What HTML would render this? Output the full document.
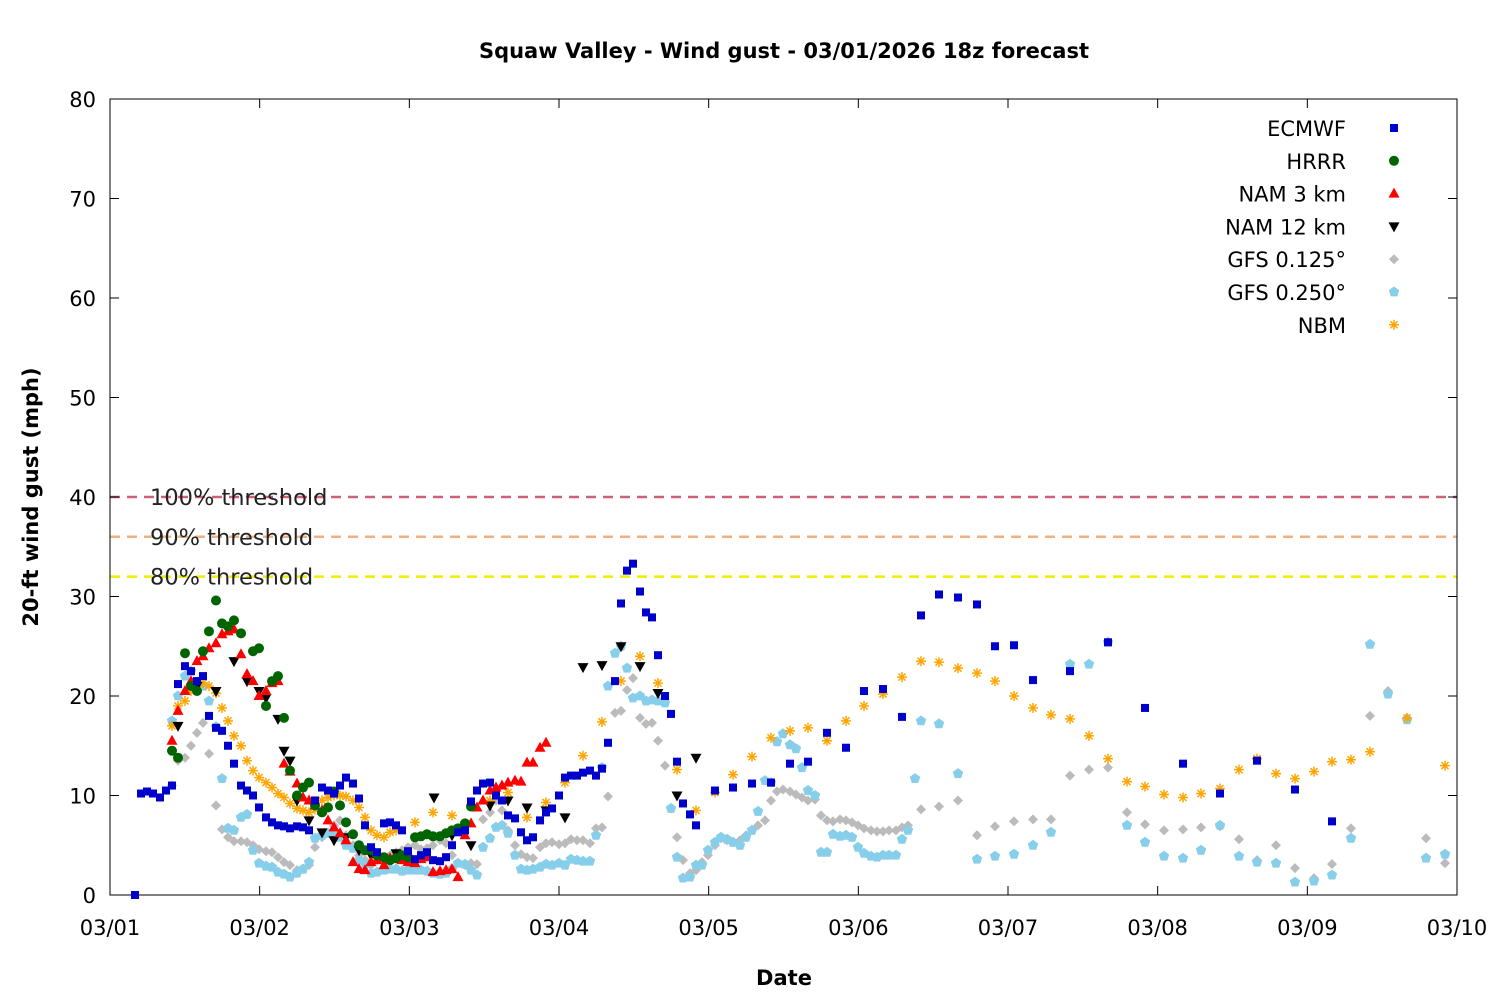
<!DOCTYPE html>
<html><head><meta charset="utf-8"><style>
html,body{margin:0;padding:0;background:#fff;}
svg text{font-family:"DejaVu Sans","Liberation Sans",sans-serif;}
</style></head><body>
<svg id="s" width="1500" height="1000" xmlns="http://www.w3.org/2000/svg">
<rect width="1500" height="1000" fill="#fff"/>
<text x="784" y="58" font-size="21" font-weight="bold" text-anchor="middle">Squaw Valley - Wind gust - 03/01/2026 18z forecast</text>
<text x="784" y="985" font-size="21" font-weight="bold" text-anchor="middle">Date</text>
<text transform="translate(38,497) rotate(-90)" font-size="21" font-weight="bold" text-anchor="middle">20-ft wind gust (mph)</text>
<g id="g"></g>
</svg>
<script>
const NS="http://www.w3.org/2000/svg",g=document.getElementById('g');
function el(t,a,txt){const e=document.createElementNS(NS,t);for(const k in a)e.setAttribute(k,a[k]);if(txt!==undefined)e.textContent=txt;g.appendChild(e);return e;}
const X0=110,X1=1457,Y0=895,Y1=99;const Y=v=>Y0-v*(Y0-Y1)/80;
[[40,'#d06078','100% threshold'],[36,'#f0b080','90% threshold'],[32,'#eeee00','80% threshold']].forEach(t=>{
 el('line',{x1:X0,x2:X1,y1:Y(t[0]),y2:Y(t[0]),stroke:t[1],'stroke-width':2.5,'stroke-dasharray':'10 7'});
 el('text',{x:150,y:Y(t[0])+8,'font-size':22.5,fill:'#222'},t[2]);});
el('rect',{x:X0,y:Y1,width:X1-X0,height:Y0-Y1,fill:'none',stroke:'#000','stroke-width':1});
for(let v=0;v<=80;v+=10){const y=Y(v);el('line',{x1:X0,x2:X0+9,y1:y,y2:y,stroke:'#000'});el('line',{x1:X1,x2:X1-9,y1:y,y2:y,stroke:'#000'});
 el('text',{x:96,y:y+8,'font-size':21,'text-anchor':'end'},String(v));}
for(let d=0;d<=9;d++){const x=X0+d*(X1-X0)/9;el('line',{x1:x,x2:x,y1:Y0,y2:Y0-9,stroke:'#000'});el('line',{x1:x,x2:x,y1:Y1,y2:Y1+9,stroke:'#000'});
 el('text',{x:x,y:935,'font-size':21,'text-anchor':'middle'},'03/'+String(d+1).padStart(2,'0'));}
function mk(type,x,y,c){
 if(type=='sq')el('rect',{x:x-4,y:y-4,width:8,height:8,fill:c});
 else if(type=='ci')el('circle',{cx:x,cy:y,r:5,fill:c});
 else if(type=='tu')el('polygon',{points:`${x},${y-6} ${x+5.5},${y+4} ${x-5.5},${y+4}`,fill:c});
 else if(type=='td')el('polygon',{points:`${x},${y+6} ${x+5.5},${y-4} ${x-5.5},${y-4}`,fill:c});
 else if(type=='di')el('polygon',{points:`${x},${y-5} ${x+5},${y} ${x},${y+5} ${x-5},${y}`,fill:c});
 else if(type=='pe'){let p=[];for(let i=0;i<5;i++){const a=-Math.PI/2+i*2*Math.PI/5;p.push((x+5.5*Math.cos(a)).toFixed(1)+','+(y+5.5*Math.sin(a)).toFixed(1));}el('polygon',{points:p.join(' '),fill:c});}
 else if(type=='as'){for(let i=0;i<4;i++){const a=i*Math.PI/4;el('line',{x1:x-5*Math.cos(a),y1:y-5*Math.sin(a),x2:x+5*Math.cos(a),y2:y+5*Math.sin(a),stroke:c,'stroke-width':1.5});}}
}
function P(s){return s.trim().split(/\s+/).map(p=>p.split(',').map(Number));}
const S=[
['di','#bbbbbb',P(`172,11 178,13.5 185,13.8 191,15 197,16.3 203,17.3 209,14.2 216,9 222,6.6 228,5.8 234,5.4 241,5.4 247,5.3 253,5 259,4.6 266,4.4 272,4.3 278,3.8 284,3.3 290,3 297,2.5 303,2.6 309,3 315,4.8 322,5.8 328,6.2 334,7 340,7.5 346,6 353,5 359,4 365,3.5 371,3 377,3.5 384,3.8 390,4 396,4.3 402,4.5 408,4.8 415,5 421,4.6 427,4.7 433,5 440,5.5 446,5.2 452,4 458,3.2 465,3 471,3.2 477,3.1 483,7.6 490,8.3 496,9.5 502,8.5 508,6.5 515,5 521,4.1 527,3.8 533,3.7 540,4.8 546,5.2 552,5.3 559,5.1 565,5.2 571,5.6 577,5.5 583,5.5 590,5.2 596,6.7 602,6.8 608,9.9 615,18.3 621,18.5 627,20.6 633,21.8 640,17.8 646,17.2 652,17.3 658,15.5 665,13 671,8.7 677,5.8 683,3.5 690,2.2 696,2.5 702,3.3 708,4 715,5 721,5.7 727,5.5 733,5.3 740,5.5 746,6 752,6.5 758,7 765,7.5 771,9.5 777,10.4 783,10.6 790,10.4 796,10.1 802,9.8 808,9.5 815,9.6 821,8 827,7.5 833,7.4 840,7.6 846,7.5 852,7.3 858,7 864,6.7 871,6.5 877,6.4 883,6.4 889,6.5 896,6.5 902,6.8 908,7 921,8.6 939,8.9 958,9.5 977,6 995,6.9 1014,7.4 1033,7.6 1051,7.6 1070,12 1089,12.6 1108,12.8 1127,8.3 1145,7.1 1164,6.5 1183,6.6 1201,6.8 1220,6.9 1239,5.6 1257,3.5 1276,5 1295,2.7 1314,1.7 1332,3.1 1351,6.7 1370,18 1388,20.5 1407,17.8 1426,5.7 1445,3.2`)],
['pe','#87ceeb',P(`172,17.5 178,20 185,22 191,22.5 197,21.3 203,21 209,19.5 216,16.9 222,11.7 228,6.7 234,6.5 241,7.8 247,8.1 253,4.5 259,3.2 266,2.9 272,2.8 278,2.3 284,2.1 290,1.8 297,2.2 303,2.6 309,3.3 315,5.7 322,6 328,6.2 334,6.1 340,5.8 346,5 353,4.7 359,3.5 365,3.1 371,2.2 377,2.3 384,2.5 390,2.6 396,2.6 402,2.4 408,2.5 415,2.5 421,2.5 427,2.4 433,2.2 440,2.1 446,2.2 452,2.6 458,3.2 465,3.1 471,2.5 477,2 483,4.8 490,5.7 496,6.8 502,7 508,6.2 515,4 521,2.6 527,2.5 533,2.6 540,2.8 546,3.1 552,3 559,3.2 565,3 571,3.6 577,3.5 583,3.4 590,3.4 596,6 602,12.8 608,21 615,24.3 621,25 627,22.8 633,19.8 640,20 646,19.5 652,19.6 658,19.5 665,19.3 671,8.7 677,3.8 683,1.7 690,1.8 696,3 702,3 708,4.5 715,5.3 721,5.8 727,5.6 733,5.3 740,5 746,5.8 752,6.5 758,8.4 765,11.5 771,11.3 777,15.4 783,16.2 790,15.1 796,14.7 802,12.8 808,10.5 815,10 821,4.3 827,4.3 833,6.1 840,5.9 846,6 852,5.8 858,4.8 864,4.2 871,3.9 877,3.8 883,4 889,4 896,4 902,5.6 908,6.5 915,11.7 921,17.5 939,17.2 958,12.2 977,3.6 995,3.9 1014,4.1 1033,5 1051,6.3 1070,23.2 1089,23.2 1108,25.4 1127,7 1145,5.3 1164,3.9 1183,3.7 1201,4.5 1220,7 1239,3.9 1257,3.3 1276,3.2 1295,1.3 1314,1.4 1332,2 1351,5.7 1370,25.2 1388,20.2 1407,17.6 1426,3.7 1445,4.1`)],
['as','#ffa500',P(`172,17 178,19 185,19.5 191,20.5 197,21 203,21.3 209,21 216,20.3 222,18.8 228,17.5 234,16 241,15 247,13.5 253,12.5 259,11.8 266,11.3 272,10.8 278,10.2 284,9.8 290,9.2 297,8.7 303,8.5 309,8.3 315,8.6 322,9.5 328,9.8 334,10 340,10 346,9.9 353,9.5 359,8.8 365,7.8 371,6.5 377,6 384,5.8 390,6.3 396,6.5 415,7.3 433,8.3 452,8 471,8.9 490,9.5 508,10.3 527,7.8 546,9.3 565,11.3 583,14 602,17.4 621,21.5 640,24 658,21.3 677,12.6 696,8.5 715,10.3 733,12.1 752,13.9 771,15.8 790,16.5 808,16.8 827,15.5 846,17.5 864,19 883,20.2 902,21.9 921,23.5 939,23.4 958,22.8 977,22.3 995,21.5 1014,20 1033,18.8 1051,18.1 1070,17.7 1089,16 1108,13.7 1127,11.4 1145,10.9 1164,10.1 1183,9.8 1201,10.2 1220,10.7 1239,12.6 1257,13.7 1276,12.2 1295,11.7 1314,12.4 1332,13.4 1351,13.6 1370,14.4 1407,17.8 1445,13`)],
['td','#000000',P(`178,17 197,21 216,20.5 234,23.5 247,21.5 259,20.5 266,19.8 278,17.7 284,14.5 290,13.5 297,9.5 309,7.5 322,6.3 334,5.5 346,5.8 359,4.5 371,4 384,3.5 396,4.2 408,3.5 434,9.8 452,6 471,5 490,9 508,9.5 527,8.8 546,8.5 565,7.8 583,22.9 602,23.1 621,25 640,23 658,20.3 677,10 696,13.8`)],
['tu','#ff0000',P(`172,15.5 178,18.5 185,20.5 191,21.5 197,23.5 203,24 209,24.8 216,25.3 222,26.2 228,26.5 234,26.7 241,24.2 247,22.2 253,21.5 259,20 266,20.5 272,21.3 278,21.5 284,13.2 290,12.4 297,11.2 303,9.8 309,9.5 315,9 322,8.5 328,7.5 334,6.8 340,6.2 346,5.5 353,3.3 359,2.6 365,2.5 371,3.3 377,3.5 384,3 390,3.7 396,3.6 402,3.5 408,3.3 415,3.2 421,3.6 427,3.8 433,2.3 440,2.4 446,2.5 452,2.6 458,1.8 465,6 471,7.2 477,8.8 483,9.5 490,10.5 496,10.8 502,11 508,11.3 515,11.5 521,11.4 527,13.3 533,13.3 540,14.8 546,15.3`)],
['ci','#006400',P(`172,14.5 178,13.8 185,24.3 191,21 197,20.5 203,24.5 209,26.5 216,29.6 222,27.3 228,27 234,27.6 241,26.3 253,24.5 259,24.8 266,19 272,21.5 278,22 284,17.8 290,12.5 297,10 303,10.8 309,11.3 315,9 322,8.3 328,8.8 334,10.4 340,9 346,7.3 353,6.1 359,5 365,4.5 371,4.5 377,4 384,3.8 390,3.5 396,3.7 402,4 408,3.8 415,5.8 421,5.9 427,6.1 433,5.9 440,5.9 446,6.2 452,6.5 458,6.7 465,7.2 471,8.9`)],
['sq','#0000cd',P(`135,0 141,10.2 147,10.4 153,10.2 160,9.8 166,10.5 172,11 178,21.2 185,23 191,22.5 197,21.5 203,22 209,18 216,16.8 222,16.5 228,15 234,13.2 241,11 247,10.5 253,10 259,8.8 266,7.8 272,7.3 278,7 284,6.9 290,6.7 297,6.9 303,6.8 309,6.5 315,9.5 322,10.8 328,10.5 334,10.2 340,11 346,11.8 353,11.2 359,9.7 365,7 371,4.8 377,4.3 384,7.2 390,7.3 396,7 402,6.5 408,4.4 415,3.6 421,4 427,4.3 433,3.5 440,3.4 446,3.8 452,5 458,6.3 465,6.5 471,9.4 477,10.5 483,11.2 490,11.3 496,10 502,9.5 508,8 515,7.7 521,6.3 527,5.5 533,5.8 540,7.5 546,8.3 552,8.7 559,10 565,11.8 571,12 577,12 583,12.3 590,12.5 596,12 602,12.7 608,15.3 615,21.5 621,29.3 627,32.6 633,33.3 640,30.5 646,28.4 652,27.9 658,24.1 665,20 671,18.2 677,13.4 683,9.2 690,8.1 696,7 715,10.5 733,10.8 752,11.2 771,11.3 790,13.2 808,13.4 827,16.3 846,14.8 864,20.5 883,20.7 902,17.9 921,28.1 939,30.2 958,29.9 977,29.2 995,25 1014,25.1 1033,21.6 1070,22.5 1108,25.4 1145,18.8 1183,13.2 1220,10.2 1257,13.5 1295,10.6 1332,7.4`)]
];
S.forEach(s=>s[2].forEach(p=>mk(s[0],p[0],Y(p[1]),s[1])));
const L=[['ECMWF','sq','#0000cd'],['HRRR','ci','#006400'],['NAM 3 km','tu','#ff0000'],['NAM 12 km','td','#000000'],['GFS 0.125°','di','#bbbbbb'],['GFS 0.250°','pe','#87ceeb'],['NBM','as','#ffa500']];
L.forEach((l,i)=>{const y=128+i*32.8;el('text',{x:1346,y:y+8,'font-size':21,'text-anchor':'end'},l[0]);mk(l[1],1394,y,l[2]);});
</script>
</body></html>
